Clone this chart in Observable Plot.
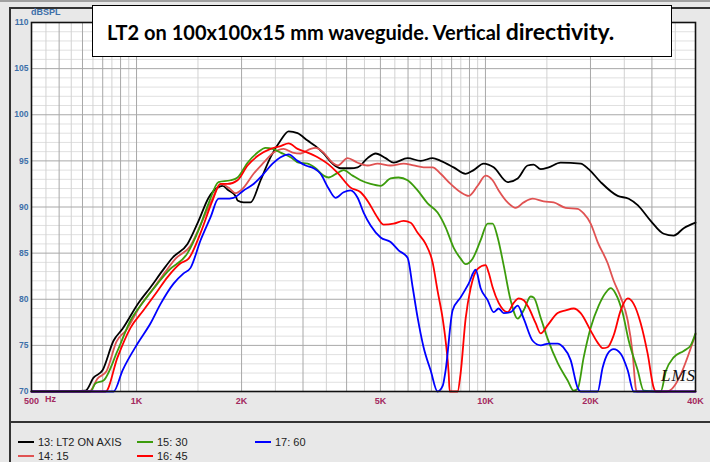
<!DOCTYPE html>
<html><head><meta charset="utf-8">
<script src="https://cdn.jsdelivr.net/npm/d3@7"></script>
<script src="https://cdn.jsdelivr.net/npm/@observablehq/plot@0.6"></script>
<style>
html,body{margin:0;padding:0;background:#e8e8e8;}
#wrap{position:relative;width:710px;height:462px;overflow:hidden;background:#e8e8e8;font-family:"Liberation Sans",Arial,sans-serif;}
#wrap svg{position:absolute;left:0;top:0;}
.ov{position:absolute;}
#title{left:92px;top:5px;width:580px;height:52px;box-sizing:border-box;border:1.5px solid #000;background:#fff;
  font-family:Lato,"Open Sans",sans-serif;font-weight:bold;color:#000;white-space:nowrap;padding-left:14px;line-height:50px;font-size:20px;}
#title .big{font-size:23px;}
.leg{position:absolute;font-size:11px;color:#222;white-space:nowrap;line-height:12px;}
.leg i{display:inline-block;width:16px;height:2px;vertical-align:middle;margin-right:4px;position:relative;top:-1px;}
</style></head><body><div id="wrap"></div>
<script>
// ---- data (frequency in Hz, level in dB SPL) ----
const freqTicks = [500, 1000, 2000, 5000, 10000, 20000, 40000];
const freqTickLabels = ["500", "1K", "2K", "5K", "10K", "20K", "40K"];
const dbTicks = [70, 75, 80, 85, 90, 95, 100, 105, 110];
const seriesNames = ["13: LT2 ON AXIS", "14: 15", "15: 30", "16: 45", "17: 60"];
const seriesColors = ["#000000", "#e05252", "#3c9c0c", "#ff0000", "#0000ff"];

const onAxis = [[500,70],[714,70.1],[753,71.5],[799,72.3],[859,75.5],[912,76.8],[1013,79.6],[1097,81.3],[1187,83.1],[1268,84.5],[1400,86.0],[1506,88.5],[1609,91.0],[1707,92.1],[1764,92.3],[1835,91.8],[1922,91.2],[1948,90.7],[2027,90.5],[2122,90.5],[2268,92.9],[2422,95.4],[2587,97.2],[2728,98.2],[2894,98.0],[3092,97.2],[3260,96.6],[3436,95.8],[3646,94.7],[3845,94.2],[4107,94.2],[4302,94.3],[4595,95.3],[4844,95.8],[5174,95.3],[5456,94.8],[5983,95.3],[6520,95.0],[7057,95.3],[7441,95.0],[8106,94.3],[8774,93.6],[9251,94.0],[9882,94.7],[10557,94.3],[11576,92.7],[12370,93.1],[13213,94.5],[13747,94.6],[14400,94.1],[15178,94.3],[16428,94.8],[18749,94.7],[19765,94.1],[21392,92.7],[23934,91.2],[25745,90.9],[27314,90.2],[29762,88.5],[32426,87.1],[34637,86.9],[37002,87.7],[40000,88.3]];

const deg15 = [[500,70],[733,70],[773,71.4],[820,72.2],[876,75.4],[936,76.7],[1034,79.5],[1119,81.2],[1211,83.0],[1294,84.4],[1428,85.8],[1536,88.3],[1641,90.7],[1741,92.5],[1835,92.1],[1922,91.5],[2027,92.1],[2165,93.6],[2313,94.8],[2471,95.9],[2639,96.3],[2801,95.9],[2952,95.8],[3154,96.3],[3260,96.4],[3436,95.9],[3646,94.8],[3770,94.5],[4026,95.3],[4302,94.8],[4595,94.5],[4908,94.7],[5348,94.5],[5828,94.7],[6225,94.5],[6648,94.3],[7057,94.3],[7441,93.6],[7947,92.5],[8490,91.6],[8952,91.2],[9498,92.3],[10014,93.4],[10485,92.9],[10912,91.8],[11576,90.5],[12208,89.9],[12872,90.5],[13657,90.9],[14686,90.6],[15691,90.5],[16979,89.9],[18378,89.8],[19123,89.3],[20027,88.2],[20970,86.2],[22405,83.9],[23312,82.0],[24416,80.2],[25573,77.7],[26422,74.1],[26956,70.4],[27132,70],[33090,70],[40000,76.2]];

const deg30 = [[500,70],[738,70],[763,70.9],[804,71.2],[882,74.4],[961,77.7],[1040,79.6],[1149,81.7],[1235,83.1],[1400,85.0],[1506,87.5],[1609,90.4],[1718,92.7],[1860,92.9],[1948,93.2],[2081,94.8],[2223,95.9],[2344,96.4],[2454,96.3],[2587,95.9],[2764,95.4],[2914,94.8],[3092,94.7],[3260,94.2],[3436,93.4],[3552,93.2],[3770,93.7],[3922,94.0],[4162,93.4],[4388,92.9],[4687,92.5],[5007,92.3],[5348,93.1],[5638,93.2],[5983,92.9],[6392,91.8],[6828,90.4],[7292,89.4],[7689,87.8],[8106,85.6],[8490,84.4],[8774,83.8],[9189,84.4],[9688,86.4],[10146,88.2],[10485,88.2],[10840,86.7],[11276,83.7],[11808,79.9],[12370,77.9],[12872,78.8],[13478,80.3],[13747,80.2],[14400,78.0],[15082,75.7],[16106,73.1],[17206,71.2],[17904,70.1],[18378,70.3],[19123,73.7],[20027,76.9],[21115,79.3],[22112,80.7],[22856,81.2],[23616,80.6],[24739,78.5],[25745,75.5],[27314,72.3],[28416,70.1],[31790,70],[32953,72.3],[34637,73.7],[37002,74.4],[38752,75.0],[40000,76.3]];

const deg45 = [[500,70],[815,70],[882,73.7],[961,76.9],[1047,78.8],[1149,80.9],[1227,82.4],[1337,83.9],[1410,84.4],[1526,87.2],[1651,90.7],[1741,92.5],[1823,92.5],[1948,92.9],[2081,94.5],[2238,95.6],[2422,96.3],[2587,96.6],[2728,96.9],[2894,96.3],[3092,95.9],[3303,95.4],[3528,94.7],[3770,93.7],[4107,92.1],[4388,91.6],[4626,90.5],[4844,89.2],[5106,88.1],[5456,88.2],[5828,88.5],[6104,88.3],[6392,87.2],[6739,86.0],[7057,84.0],[7292,80.9],[7541,77.9],[7689,75.5],[7845,72.0],[7897,70],[8323,70],[8490,72.0],[8774,77.9],[9070,81.2],[9498,83.3],[10014,83.7],[10213,82.9],[10485,81.3],[10912,79.6],[11576,78.6],[12047,79.6],[12452,80.1],[12872,79.9],[13297,79.1],[13929,77.4],[14400,76.3],[15082,77.2],[16106,78.5],[16979,78.8],[17904,79.0],[18749,78.5],[20027,76.6],[20970,75.3],[21675,74.7],[22405,74.8],[23312,76.1],[24416,78.8],[25573,80.1],[26596,79.5],[27859,77.4],[29170,74.1],[30364,70.4],[30756,70],[40000,70]];

const deg60 = [[500,70],[859,70],[912,72.3],[1007,75.2],[1097,77.4],[1172,79.5],[1277,81.7],[1364,82.8],[1428,83.4],[1526,86.4],[1630,88.9],[1718,90.9],[1800,90.9],[1897,91.0],[2027,91.8],[2165,92.5],[2313,93.6],[2454,94.7],[2587,95.4],[2728,95.7],[2894,95.0],[3052,94.5],[3218,94.2],[3369,93.6],[3552,92.0],[3720,91.0],[3922,91.6],[4107,91.8],[4302,91.0],[4476,89.4],[4687,88.0],[5007,86.7],[5348,86.2],[5638,85.3],[5983,84.5],[6186,81.3],[6392,78.0],[6648,74.8],[6964,72.3],[7292,70],[7541,70.6],[7689,72.3],[8053,78.8],[8490,80.2],[8952,81.7],[9374,83.2],[9688,81.2],[10146,79.9],[10557,78.6],[10912,79.0],[11276,78.5],[11808,78.6],[12370,79.3],[12872,77.9],[13657,75.5],[14400,75.0],[15178,75.2],[16106,75.2],[16707,74.8],[17549,73.4],[18378,70.4],[18749,70],[20970,70],[21675,72.6],[22405,74.1],[23312,74.6],[24416,74.1],[25573,72.3],[26596,70],[40000,70]];

const seriesData = [onAxis, deg15, deg30, deg45, deg60];

// grid values
const freqMajor = [600,700,800,900,1000,2000,3000,4000,5000,6000,7000,8000,9000,10000,20000,30000];
const freqMinor = [550,650,750,850,950,1500,2500,3500,4500,5500,6500,7500,8500,9500,15000,25000,35000];
const dbMinor = d3.range(71, 110).filter(v => v % 5 !== 0);

const rows = seriesData.flatMap((pts, i) => pts.map(([f, db]) => ({series: seriesNames[i], f, db})));

const chart = Plot.plot({
  width: 710, height: 462,
  marginLeft: 31, marginRight: 15, marginTop: 22, marginBottom: 71,
  x: {type: "log", domain: [500, 40000]},
  y: {domain: [70, 110]},
  color: {domain: seriesNames, range: seriesColors},
  style: {background: "transparent", fontFamily: "'Liberation Sans', Arial, sans-serif", overflow: "visible"},
  marks: [
    Plot.frame({fill: "white", stroke: null}),
    Plot.ruleY(dbMinor, {stroke: "#e0e0e0", strokeWidth: 1}),
    Plot.ruleX(freqMinor, {stroke: "#d2d2d2", strokeWidth: 1}),
    Plot.ruleX(freqMajor, {stroke: "#a8a8a8", strokeWidth: 1}),
    Plot.ruleY(dbTicks, {stroke: "#a8a8a8", strokeWidth: 1}),
    Plot.line(rows, {x: "f", y: "db", z: "series", stroke: "series", strokeWidth: 1.8, curve: "monotone-x"}),
    Plot.frame({stroke: "#111", strokeWidth: 1.6}),
    Plot.axisX({ticks: freqTicks, tickFormat: d => freqTickLabels[freqTicks.indexOf(d)], tickSize: 0, tickPadding: 6,
      fill: "#a3285e", fontWeight: "bold", fontSize: 9, label: null}),
    Plot.text(["Hz"], {x: () => freqTicks[0], frameAnchor: "bottom", dy: 10.5, dx: 19, text: d => d,
      fill: "#a3285e", fontWeight: "bold", fontSize: 9}),
    Plot.axisY({ticks: dbTicks, tickSize: 0, tickPadding: 3, fill: "#3d6fa8", fontWeight: "bold", fontSize: 8.5, label: null})
  ]
});

const wrap = document.getElementById("wrap");
// outer decorations
function box(css){ const d = document.createElement("div"); d.className = "ov"; d.style.cssText = css; wrap.appendChild(d); return d; }
box("left:0;top:0;width:710px;height:2px;background:#a0a0a0;");
box("left:9px;top:7px;width:701px;height:1.5px;background:#333;");
box("left:9px;top:7px;width:1.5px;height:455px;background:#333;");
box("left:9px;top:421px;width:701px;height:2px;background:#333;");
wrap.appendChild(chart);

// dBSPL label
const unit = box("left:31px;top:7px;font-size:9px;font-weight:bold;color:#3d6fa8;");
unit.textContent = "dBSPL";

// title box
const t = document.createElement("div");
t.id = "title"; t.className = "ov";
t.innerHTML = 'LT2 on 100x100x15 mm waveguide. Vertical <span class="big">directivity.</span>';
wrap.appendChild(t);

// LMS mark
const lms = box("left:661px;top:366px;font-family:'Liberation Serif',serif;font-style:italic;font-size:17px;color:#111;letter-spacing:1px;");
lms.textContent = "LMS";

// legend
const legCols = [18, 137, 255];
const legRows = [436, 450];
const legPos = [[0,0],[0,1],[1,0],[1,1],[2,0]];
seriesNames.forEach((name, i) => {
  const [c, r] = legPos[i];
  const d = document.createElement("div");
  d.className = "leg";
  d.style.left = legCols[c] + "px";
  d.style.top = legRows[r] + "px";
  d.innerHTML = `<i style="background:${seriesColors[i]}"></i>${name}`;
  wrap.appendChild(d);
});
</script>
</body></html>
